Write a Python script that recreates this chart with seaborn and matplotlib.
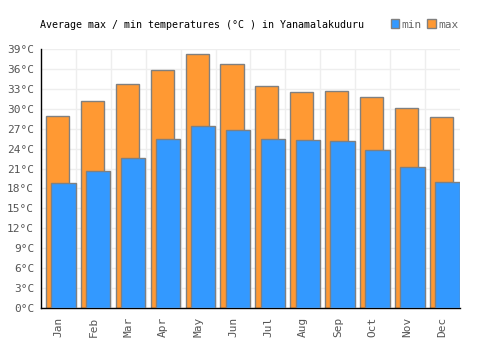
import numpy as np
import pandas as pd
import seaborn as sns
import matplotlib.pyplot as plt
from matplotlib.patches import Patch

months = ['Jan', 'Feb', 'Mar', 'Apr', 'May', 'Jun', 'Jul', 'Aug', 'Sep', 'Oct', 'Nov', 'Dec']
t_max = [28.9, 31.2, 33.7, 35.8, 38.3, 36.7, 33.4, 32.5, 32.7, 31.8, 30.1, 28.8]
t_min = [18.8, 20.6, 22.6, 25.4, 27.4, 26.8, 25.4, 25.3, 25.1, 23.8, 21.2, 19.0]
yticks = list(range(0, 40, 3))

df = pd.DataFrame({'month': months, 'max': t_max, 'min': t_min})

sns.set_style('white')
plt.rcParams['font.family'] = ['DejaVu Sans Mono']

fig = plt.figure(figsize=(5, 3.5), dpi=100)
ax = fig.add_axes([0.082, 0.12, 0.838, 0.74])

# max bars behind, min bars in front, shifted within each slot
sns.barplot(data=df, x='month', y='max', color='#ff9933', saturation=1, width=0.66,
            edgecolor='#808080', linewidth=1, ax=ax, zorder=2)
n = len(months)
for p in ax.patches[:n]:
    p.set_x(p.get_x() - 0.03)
sns.barplot(data=df, x='month', y='min', color='#3399ff', saturation=1, width=0.70,
            edgecolor='#808080', linewidth=1, ax=ax, zorder=3)
for p in ax.patches[n:]:
    p.set_x(p.get_x() + 0.14)

ax.set_xlim(-0.5, n - 0.5)
ax.set_ylim(0, 39)
ax.set_yticks(yticks)
ax.set_yticklabels([f'{v}°C' for v in yticks])
ax.set_xticks(np.arange(n - 1) + 0.5, minor=True)
ax.grid(True, which='minor', axis='x', color='#eeeeee', linewidth=1, zorder=0)
ax.grid(True, which='major', axis='y', color='#eeeeee', linewidth=1, zorder=0)
ax.set_axisbelow(True)
ax.tick_params(axis='x', which='major', rotation=90, labelsize=8, colors='#555555', length=0, pad=6)
ax.tick_params(axis='x', which='minor', length=0)
ax.tick_params(axis='y', labelsize=8, colors='#555555', length=3, width=0.8, pad=2)
ax.set_xlabel('')
ax.set_ylabel('')

for s in ['top', 'right']:
    ax.spines[s].set_visible(False)
for s in ['left', 'bottom']:
    ax.spines[s].set_color('black')
    ax.spines[s].set_linewidth(1)

fig.text(0.08, 0.93, 'Average max / min temperatures (°C ) in Yanamalakuduru',
         fontsize=7.2, color='black', va='center', ha='left')

# legend
handles = [Patch(facecolor='#3399ff', edgecolor='#808080', label='min'),
           Patch(facecolor='#ff9933', edgecolor='#808080', label='max')]
leg = fig.legend(handles=handles, loc='center left', bbox_to_anchor=(0.77, 0.93), ncol=2,
                 frameon=False, fontsize=8, handlelength=0.8, handleheight=0.8,
                 handletextpad=0.2, columnspacing=0.5, borderpad=0)
for t in leg.get_texts():
    t.set_color('#666666')

fig.savefig('out.png', dpi=100)
